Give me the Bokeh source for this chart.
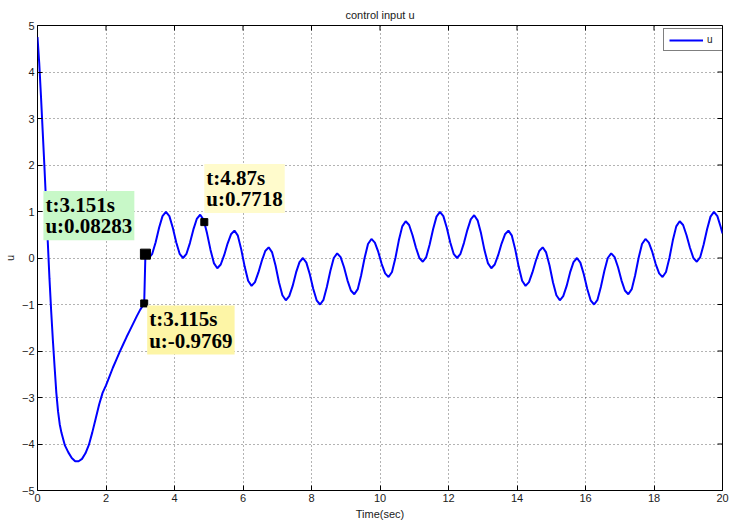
import numpy as np
from bokeh.plotting import figure
from bokeh.models import Range1d, FixedTicker, Label, Legend, LegendItem
from bokeh.embed import file_html
from bokeh.resources import INLINE

# Start-up transient of the control input, up to the switching instant
t_start = [0.0, 0.05, 0.1, 0.15, 0.2, 0.25, 0.3, 0.35, 0.4, 0.45, 0.5, 0.55,
           0.6, 0.65, 0.7, 0.8, 0.9, 1.0, 1.1, 1.2, 1.3, 1.4, 1.5, 1.6, 1.7,
           1.8, 1.9, 2.0, 2.1, 2.2, 2.3, 2.4, 2.5, 2.6, 2.7, 2.8, 2.9, 3.0,
           3.115, 3.151, 3.2]
u_start = [4.75, 4.2, 3.5, 2.75, 2.0, 1.2, 0.35, -0.45, -1.15, -1.78, -2.35,
           -2.9, -3.3, -3.58, -3.76, -4.03, -4.18, -4.3, -4.37, -4.37, -4.32,
           -4.2, -4.02, -3.75, -3.45, -3.15, -2.9, -2.74, -2.55, -2.36, -2.19,
           -2.02, -1.86, -1.7, -1.55, -1.4, -1.25, -1.11, -0.9769, 0.08283,
           0.03]

# Oscillating regime after the switch, sampled every 0.1 s from 3.25 s
u_osc = [
    0.00, 0.09, 0.34, 0.65, 0.90, 0.99, 0.90, 0.65, 0.34, 0.09,
    0.00, 0.09, 0.32, 0.61, 0.84, 0.93, 0.82, 0.53, 0.18, -0.11,
    -0.22, -0.14, 0.06, 0.31, 0.51, 0.59, 0.48, 0.18, -0.19, -0.49,
    -0.60, -0.52, -0.31, -0.06, 0.15, 0.23, 0.12, -0.16, -0.52, -0.80,
    -0.91, -0.82, -0.60, -0.31, -0.09, 0.00, -0.10, -0.35, -0.66, -0.91,
    -1.00, -0.90, -0.62, -0.28, 0.00, 0.10, 0.02, -0.20, -0.48, -0.70,
    -0.78, -0.67, -0.37, 0.00, 0.30, 0.41, 0.33, 0.13, -0.13, -0.33,
    -0.41, -0.30, 0.00, 0.38, 0.68, 0.79, 0.71, 0.49, 0.22, 0.00,
    -0.08, 0.02, 0.29, 0.62, 0.89, 0.99, 0.90, 0.65, 0.34, 0.09,
    0.00, 0.09, 0.32, 0.60, 0.83, 0.92, 0.81, 0.53, 0.17, -0.11,
    -0.22, -0.14, 0.06, 0.31, 0.51, 0.59, 0.48, 0.18, -0.19, -0.49,
    -0.60, -0.52, -0.31, -0.06, 0.15, 0.23, 0.12, -0.16, -0.52, -0.80,
    -0.91, -0.82, -0.60, -0.31, -0.09, 0.00, -0.10, -0.35, -0.66, -0.91,
    -1.00, -0.90, -0.62, -0.28, 0.00, 0.10, 0.02, -0.20, -0.48, -0.70,
    -0.78, -0.67, -0.37, 0.00, 0.30, 0.41, 0.33, 0.13, -0.13, -0.33,
    -0.41, -0.30, 0.00, 0.38, 0.68, 0.79, 0.71, 0.49, 0.22, 0.00,
    -0.08, 0.02, 0.29, 0.62, 0.89, 0.99, 0.90, 0.66,
]
t_osc = list(np.round(3.25 + 0.1 * np.arange(len(u_osc)), 2))

t_final = [20.0]
u_final = [0.53]

t_all = t_start + t_osc + t_final
u_all = u_start + u_osc + u_final

# Data tips
tip_t = [3.151, 3.115, 4.87]
tip_u = [0.08283, -0.9769, 0.7718]

x_ticks = [0, 2, 4, 6, 8, 10, 12, 14, 16, 18, 20]
y_ticks = [-5, -4, -3, -2, -1, 0, 1, 2, 3, 4, 5]
x_min, x_max = 0, 20
y_min, y_max = -5, 5

TXT = "#1a1a1a"
SANS = "Liberation Sans"

p = figure(width=731, height=527, output_backend="svg", toolbar_location=None,
           x_range=Range1d(x_min, x_max), y_range=Range1d(y_min, y_max),
           min_border_left=35, min_border_right=9, min_border_top=25,
           min_border_bottom=37, title="control input u")
p.background_fill_color = "white"
p.border_fill_color = "white"
p.outline_line_color = "black"
p.outline_line_width = 1

p.title.align = "center"
p.title.text_font = SANS
p.title.text_font_style = "normal"
p.title.text_font_size = "11px"
p.title.text_color = TXT
p.title.standoff = 10

for ax, ticks in ((p.xaxis[0], x_ticks), (p.yaxis[0], y_ticks)):
    ax.ticker = FixedTicker(ticks=ticks)
    ax.axis_line_color = None
    ax.major_tick_in = 5
    ax.major_tick_out = 0
    ax.major_tick_line_color = "black"
    ax.minor_tick_line_color = None
    ax.major_label_text_font = SANS
    ax.major_label_text_font_size = "11px"
    ax.major_label_text_color = TXT
    ax.major_label_standoff = 3
    ax.axis_label_text_font = SANS
    ax.axis_label_text_font_size = "11px"
    ax.axis_label_text_font_style = "normal"
    ax.axis_label_text_color = TXT
    ax.axis_label_standoff = 3

p.xaxis.axis_label = "Time(sec)"
p.yaxis.axis_label = "u"
p.yaxis.axis_label_standoff = 3

# Mirrored tick marks along the top and right edges of the box
p.ray(x=x_ticks, y=[y_max] * len(x_ticks), length=5, length_units="screen",
      angle=-np.pi / 2, line_color="black", line_width=1)
p.ray(x=[x_max] * len(y_ticks), y=y_ticks, length=5, length_units="screen",
      angle=np.pi, line_color="black", line_width=1)

p.xgrid.ticker = FixedTicker(ticks=x_ticks)
p.ygrid.ticker = FixedTicker(ticks=y_ticks)
for g in (p.xgrid[0], p.ygrid[0]):
    g.grid_line_color = "black"
    g.grid_line_alpha = 0.6
    g.grid_line_dash = "1 3"
    g.grid_line_width = 1

curve = p.line(t_all, u_all, line_color="#0000ff", line_width=2)

# Data-tip markers
p.scatter(tip_t[:1], tip_u[:1], marker="square", size=10, color="black")
p.scatter(tip_t[1:], tip_u[1:], marker="square", size=7, color="black")

SERIF = "Liberation Serif"
tip_style = [
    # (fill, text_baseline, x_offset, y_offset)
    ("#c8f8c8", "bottom", -102, 14),
    ("#fdf5a6", "top", 3, -2),
    ("#fffbcc", "bottom", 0, 9),
]
for tt, uu, (fill, va, dx, dy) in zip(tip_t, tip_u, tip_style):
    p.add_layout(Label(
        x=tt, y=uu, x_offset=dx, y_offset=dy,
        text=f"t:{tt}s\nu:{uu}",
        text_font=SERIF, text_font_style="bold", text_font_size="21px",
        text_color="black", text_align="left", text_baseline=va,
        text_line_height=0.88,
        background_fill_color=fill, background_fill_alpha=1.0,
        padding=2,
    ))

legend = Legend(items=[LegendItem(label="u", renderers=[curve])],
                location=(626, 439))
legend.margin = 0
legend.padding = 5
legend.spacing = 0
legend.glyph_width = 34
legend.glyph_height = 10
legend.label_height = 10
legend.label_standoff = 4
legend.label_text_font = SANS
legend.label_text_font_size = "10px"
legend.label_text_color = TXT
legend.border_line_color = "black"
legend.border_line_width = 1
legend.background_fill_color = "white"
legend.background_fill_alpha = 1.0
p.add_layout(legend)

open("out.html", "w").write(file_html(p, INLINE))
